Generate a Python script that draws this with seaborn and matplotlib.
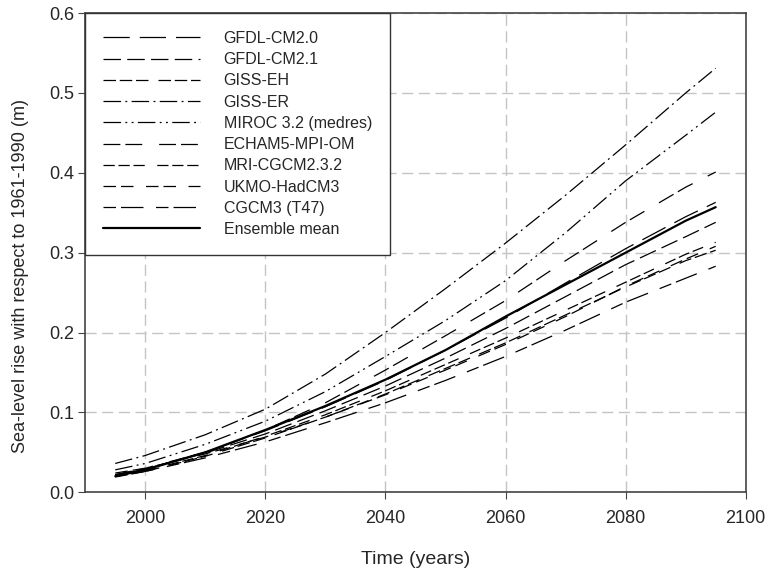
import matplotlib
matplotlib.use("Agg")
import matplotlib.pyplot as plt
import seaborn as sns
import pandas as pd

years = [1995, 2000, 2010, 2020, 2030, 2040, 2050, 2060, 2070, 2080, 2090, 2095]

gfdl_cm20 = [.021, .029, .050, .077, .107, .140, .178, .218, .262, .305, .345, .363]
gfdl_cm21 = [.022, .029, .049, .073, .102, .133, .168, .205, .245, .285, .320, .338]
giss_eh = [.019, .026, .045, .068, .094, .123, .155, .187, .222, .257, .290, .303]
giss_er = [.036, .046, .072, .104, .148, .200, .255, .312, .372, .435, .500, .531]
miroc = [.028, .036, .060, .089, .126, .170, .215, .265, .325, .390, .447, .476]
echam5 = [.022, .030, .050, .078, .112, .153, .196, .240, .290, .338, .382, .401]
mri = [.020, .027, .046, .070, .097, .127, .160, .193, .228, .263, .298, .313]
ukmo = [.024, .030, .048, .069, .094, .122, .153, .185, .220, .258, .292, .308]
cgcm3 = [.020, .026, .043, .063, .087, .112, .140, .170, .203, .238, .268, .283]
ens_mean = [.020, .028, .050, .078, .108, .141, .178, .220, .260, .300, .340, .357]

labels = ["GFDL-CM2.0", "GFDL-CM2.1", "GISS-EH", "GISS-ER", "MIROC 3.2 (medres)",
          "ECHAM5-MPI-OM", "MRI-CGCM2.3.2", "UKMO-HadCM3", "CGCM3 (T47)", "Ensemble mean"]
series = [gfdl_cm20, gfdl_cm21, giss_eh, giss_er, miroc, echam5, mri, ukmo, cgcm3, ens_mean]

# dash patterns (on, off, ...) per line, in linewidth units
dash_styles = [(21, 8), (14, 5), (10, 3, 10, 3, 10, 8), (14, 3.5, 1.5, 3.5),
               (14, 3.5, 1.5, 3.5, 1.5, 3.5), (13.5, 4, 13.5, 13.5),
               (9, 3, 9, 3, 9, 10), (10, 4, 10, 10), (10, 4, 18, 10), None]

sns.set_style("ticks")
plt.rcParams['font.family'] = ['Liberation Sans', 'DejaVu Sans']

fig = plt.figure(figsize=(7.68, 5.71), dpi=100)
ax = fig.add_axes([0.111, 0.138, 0.86, 0.839])

for name, vals, ds in zip(labels, series, dash_styles):
    df = pd.DataFrame({'year': years, 'rise': vals})
    lw = 1.6 if ds is None else 0.9
    sns.lineplot(data=df, x='year', y='rise', ax=ax, color='black', lw=lw, label=name)
    if ds is not None:
        ax.lines[-1].set_dashes(ds)

ax.set_xlim(1990, 2100)
ax.set_ylim(0, 0.6)
ax.set_xticks([2000, 2020, 2040, 2060, 2080, 2100])
ax.set_yticks([0.0, 0.1, 0.2, 0.3, 0.4, 0.5, 0.6])
ax.set_yticklabels([f"{v:.1f}" for v in [0.0, 0.1, 0.2, 0.3, 0.4, 0.5, 0.6]])
ax.grid(True, color='#c4c4c4', linestyle=(0, (8, 4)), lw=1.0)
ax.set_axisbelow(True)
for s in ax.spines.values():
    s.set_color('#444444')
    s.set_linewidth(1.2)
ax.tick_params(axis='both', labelsize=13, direction='out', length=5, color='#444444')
ax.tick_params(axis='x', pad=8)
ax.tick_params(axis='y', pad=3)
ax.set_xlabel("Time (years)", fontsize=14, labelpad=17)
ax.set_ylabel("Sea-level rise with respect to 1961-1990 (m)", fontsize=13)
ax.yaxis.set_label_coords(-0.085, 0.452)

leg = ax.legend(loc='upper left', bbox_to_anchor=(0, 1), borderaxespad=0,
                fontsize=11.5, handlelength=6.05, handletextpad=1.5,
                labelspacing=0.39, borderpad=1.12, fancybox=False, framealpha=1)
leg.get_frame().set_edgecolor('#333333')
leg.get_frame().set_linewidth(1.0)

plt.savefig("out.png", dpi=100)
plt.close()
